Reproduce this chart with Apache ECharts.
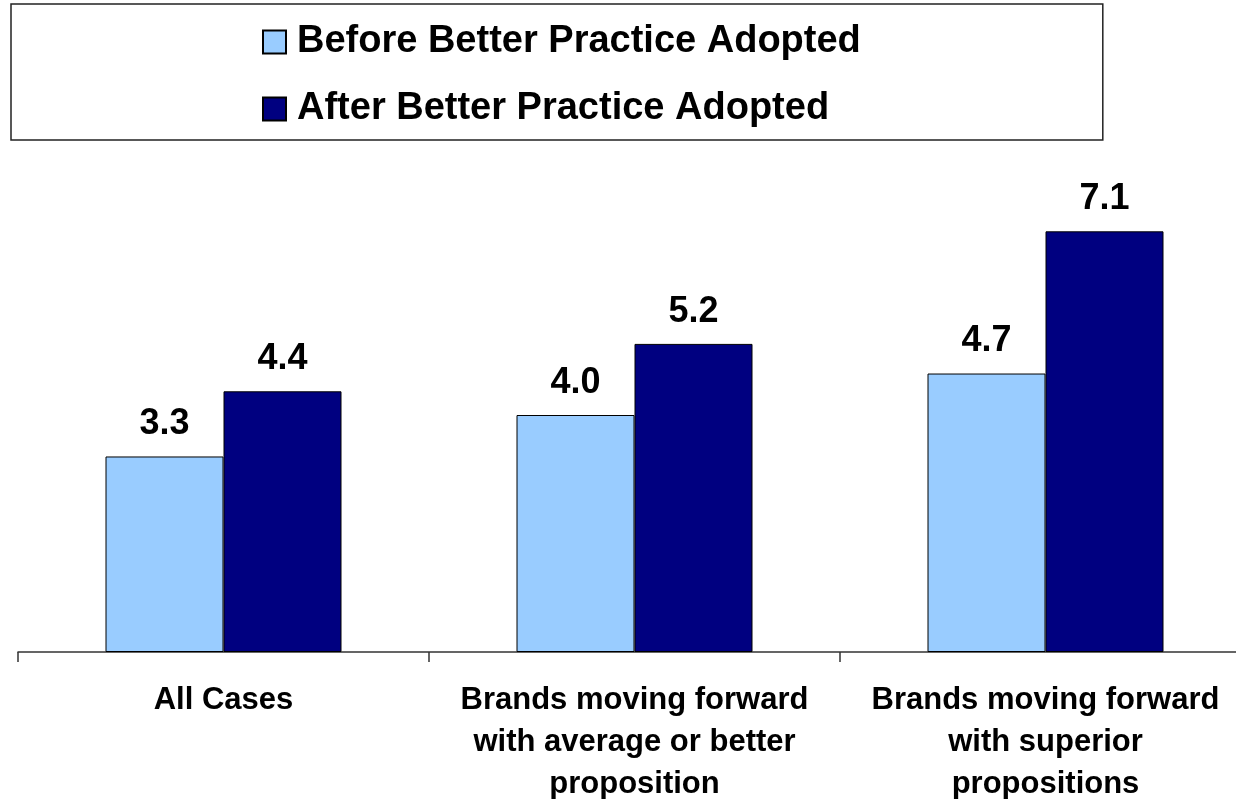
<!DOCTYPE html>
<html>
<head>
<meta charset="utf-8">
<script src="https://cdn.jsdelivr.net/npm/echarts@6/dist/echarts.min.js"></script>
<style>
  html, body { margin: 0; padding: 0; background: #fff; }
  #chart { width: 1236px; height: 799px; }
</style>
</head>
<body>
<div id="chart"></div>
<script>
  const categories = [
    'All Cases',
    'Brands moving forward\nwith average or better\nproposition',
    'Brands moving forward\nwith superior\npropositions',
  ];
  const seriesNames = ['Before Better Practice Adopted', 'After Better Practice Adopted'];
  const beforeValues = [3.3, 4.0, 4.7];
  const afterValues = [4.4, 5.2, 7.1];

  const font = 'Arial, "Liberation Sans", sans-serif';

  const barSeries = (name, data, color) => ({
    name,
    type: 'bar',
    data,
    barWidth: 118,
    barGap: '0%',
    itemStyle: {color, borderColor: '#000', borderWidth: 1},
    label: {
      show: true,
      position: 'top',
      distance: 14,
      color: '#000',
      fontFamily: font,
      fontWeight: 'bold',
      fontSize: 36,
      formatter: (p) => p.value.toFixed(1),
    },
  });

  const chart = echarts.init(document.getElementById('chart'), null, {renderer: 'canvas'});
  chart.setOption({
    animation: false,
    legend: {
      orient: 'vertical',
      left: 11,
      top: 4,
      padding: [19, 242, 12, 251],
      itemGap: 29,
      itemWidth: 23,
      itemHeight: 23,
      icon: 'rect',
      borderColor: '#222',
      borderWidth: 1.5,
      textStyle: {
        fontFamily: font,
        fontWeight: 'bold',
        fontSize: 38,
        lineHeight: 38,
        color: '#000',
        padding: [0, 0, 0, 6],
      },
      data: seriesNames,
    },
    grid: {left: 18, top: 178, width: 1233, bottom: 147, outerBoundsMode: 'none'},
    xAxis: {
      type: 'category',
      data: categories,
      axisLine: {lineStyle: {color: '#333', width: 1.5}},
      axisTick: {show: true, length: 10, lineStyle: {color: '#333', width: 1.5}},
      axisLabel: {
        interval: 0,
        margin: 27,
        color: '#000',
        fontFamily: font,
        fontWeight: 'bold',
        fontSize: 31,
        lineHeight: 42,
      },
    },
    yAxis: {
      type: 'value',
      min: 0,
      max: 8,
      show: false,
    },
    series: [
      barSeries(seriesNames[0], beforeValues, '#99CCFF'),
      barSeries(seriesNames[1], afterValues, '#000080'),
    ],
  });
</script>
</body>
</html>
